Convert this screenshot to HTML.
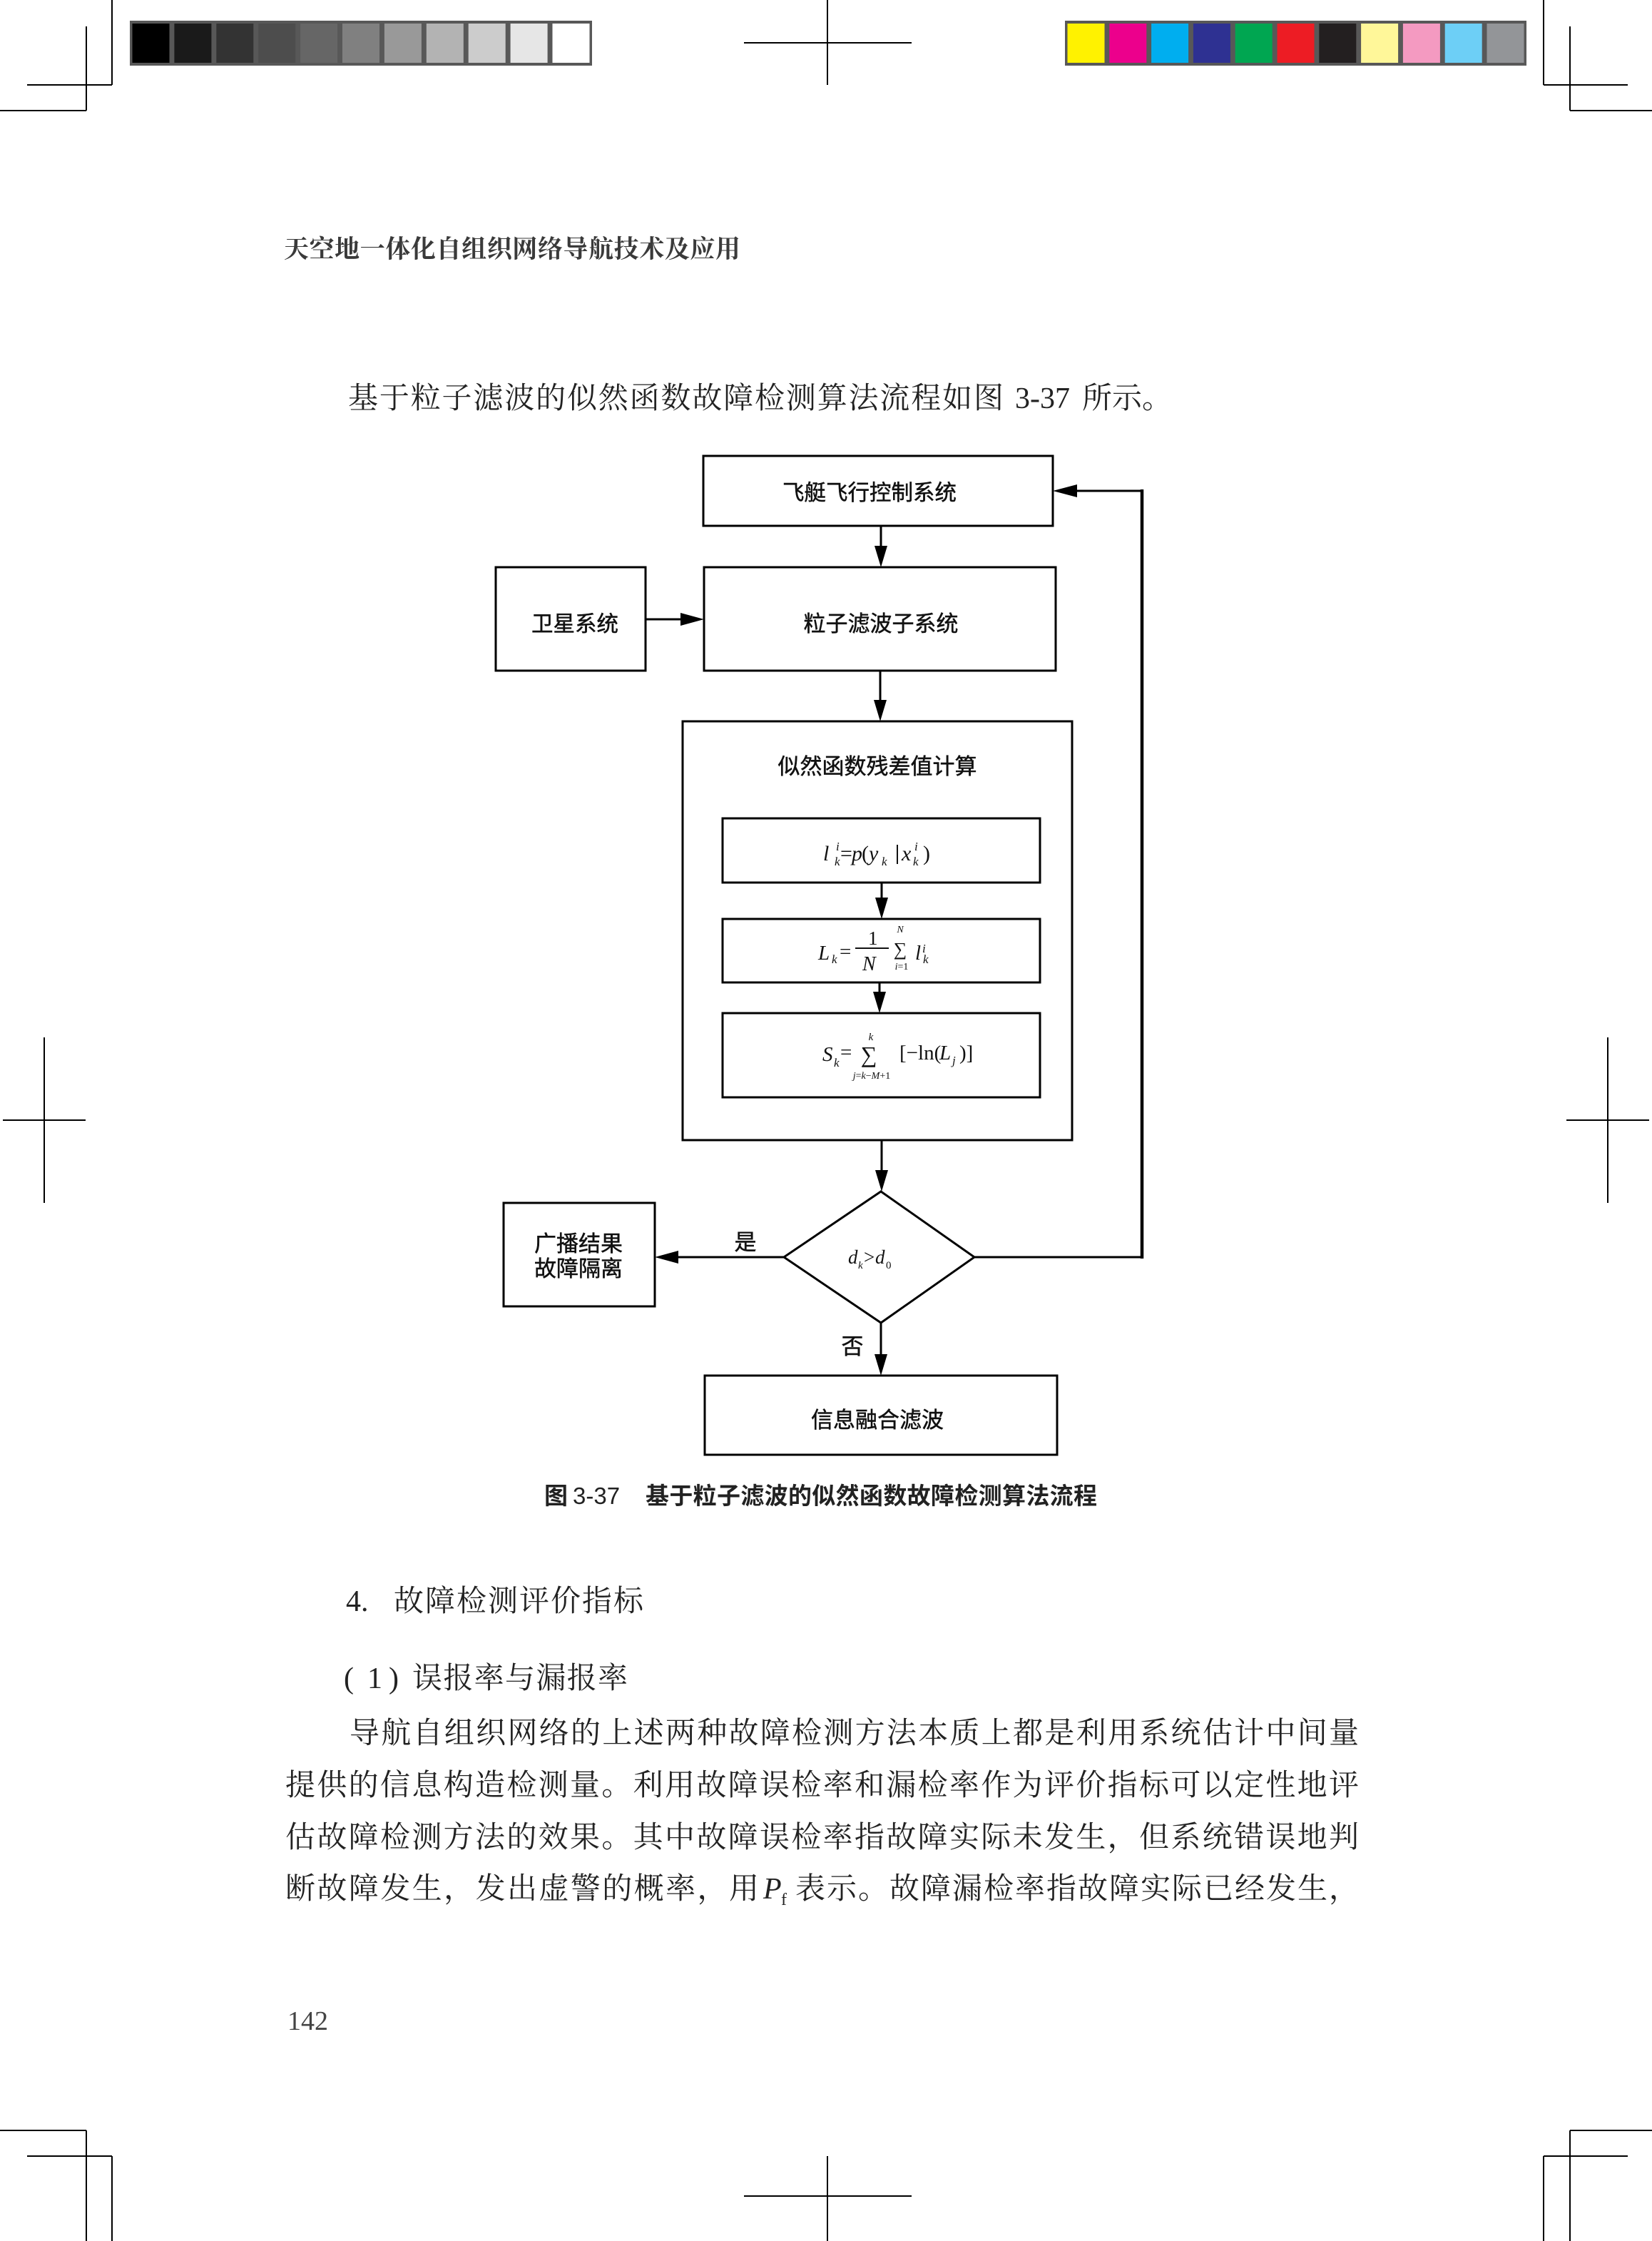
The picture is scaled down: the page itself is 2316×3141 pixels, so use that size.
<!DOCTYPE html>
<html>
<head>
<meta charset="utf-8">
<style>
  html, body { margin: 0; padding: 0; background: #ffffff; }
  svg { display: block; }
</style>
</head>
<body>
<svg xmlns="http://www.w3.org/2000/svg" width="2316" height="3141" viewBox="0 0 2316 3141">
  <rect x="0" y="0" width="2316" height="3141" fill="#ffffff"/>

  <!-- ===== Crop marks ===== -->
  <g stroke="#000" stroke-width="2" fill="none">
    <line x1="157" y1="0" x2="157" y2="119"/>
    <line x1="38" y1="119" x2="157" y2="119"/>
    <line x1="121" y1="37" x2="121" y2="155"/>
    <line x1="0" y1="155" x2="121" y2="155"/>
    <line x1="1160" y1="0" x2="1160" y2="119"/>
    <line x1="1043" y1="60" x2="1278" y2="60"/>
    <line x1="2164" y1="0" x2="2164" y2="119"/>
    <line x1="2164" y1="119" x2="2282" y2="119"/>
    <line x1="2201" y1="37" x2="2201" y2="155"/>
    <line x1="2201" y1="155" x2="2316" y2="155"/>
    <line x1="62" y1="1454" x2="62" y2="1686"/>
    <line x1="4" y1="1570" x2="120" y2="1570"/>
    <line x1="2254" y1="1454" x2="2254" y2="1686"/>
    <line x1="2196" y1="1570" x2="2312" y2="1570"/>
    <line x1="157" y1="3022" x2="157" y2="3141"/>
    <line x1="38" y1="3022" x2="157" y2="3022"/>
    <line x1="121" y1="2986" x2="121" y2="3141"/>
    <line x1="0" y1="2986" x2="121" y2="2986"/>
    <line x1="1160" y1="3022" x2="1160" y2="3141"/>
    <line x1="1043" y1="3078" x2="1278" y2="3078"/>
    <line x1="2164" y1="3022" x2="2164" y2="3141"/>
    <line x1="2164" y1="3022" x2="2282" y2="3022"/>
    <line x1="2201" y1="2986" x2="2201" y2="3141"/>
    <line x1="2201" y1="2986" x2="2316" y2="2986"/>
  </g>

  <!-- ===== Gray scale bar ===== -->
  <rect x="182" y="29" width="648" height="63" fill="#585858"/>
  <g>
    <rect x="185.5" y="33" width="52" height="55" fill="#000000"/>
    <rect x="244.4" y="33" width="52" height="55" fill="#1a1a1a"/>
    <rect x="303.3" y="33" width="52" height="55" fill="#333333"/>
    <rect x="362.2" y="33" width="52" height="55" fill="#4d4d4d"/>
    <rect x="421.1" y="33" width="52" height="55" fill="#666666"/>
    <rect x="480.0" y="33" width="52" height="55" fill="#808080"/>
    <rect x="538.9" y="33" width="52" height="55" fill="#999999"/>
    <rect x="597.8" y="33" width="52" height="55" fill="#b3b3b3"/>
    <rect x="656.7" y="33" width="52" height="55" fill="#cccccc"/>
    <rect x="715.6" y="33" width="52" height="55" fill="#e6e6e6"/>
    <rect x="774.5" y="33" width="52" height="55" fill="#ffffff"/>
  </g>

  <!-- ===== Color bar ===== -->
  <rect x="1493" y="29" width="647" height="63" fill="#585858"/>
  <g>
    <rect x="1496.5" y="33" width="52" height="55" fill="#fff200"/>
    <rect x="1555.3" y="33" width="52" height="55" fill="#ec008c"/>
    <rect x="1614.1" y="33" width="52" height="55" fill="#00aeef"/>
    <rect x="1672.9" y="33" width="52" height="55" fill="#2e3192"/>
    <rect x="1731.7" y="33" width="52" height="55" fill="#00a651"/>
    <rect x="1790.5" y="33" width="52" height="55" fill="#ed1c24"/>
    <rect x="1849.3" y="33" width="52" height="55" fill="#231f20"/>
    <rect x="1908.1" y="33" width="52" height="55" fill="#fff799"/>
    <rect x="1966.9" y="33" width="52" height="55" fill="#f49ac1"/>
    <rect x="2025.7" y="33" width="52" height="55" fill="#6dcff6"/>
    <rect x="2084.5" y="33" width="52" height="55" fill="#939598"/>
  </g>

  <!-- ===== Running header ===== -->
  <text x="398" y="361" textLength="640" lengthAdjust="spacing"
        style="font-family:'Liberation Serif','Noto Serif CJK SC',serif;font-size:35px;font-weight:700;fill:#3a3a3a;">天空地一体化自组织网络导航技术及应用</text>

  <!-- ===== Intro line ===== -->
  <text x="488" y="572" textLength="919" lengthAdjust="spacing"
        style="font-family:'Liberation Serif','Noto Serif CJK SC',serif;font-size:42px;fill:#222;">基于粒子滤波的似然函数故障检测算法流程如图</text>
  <text x="1423" y="572" style="font-family:'Liberation Serif',serif;font-size:42px;fill:#222;">3-37</text>
  <text x="1517" y="572" textLength="126" lengthAdjust="spacing"
        style="font-family:'Liberation Serif','Noto Serif CJK SC',serif;font-size:42px;fill:#222;">所示。</text>

  <!-- ===== Flowchart ===== -->
  <g stroke="#000" stroke-width="3" fill="none">
    <rect x="986" y="639" width="490" height="98"/>
    <rect x="695" y="795" width="210" height="145"/>
    <rect x="987" y="795" width="493" height="145"/>
    <rect x="957" y="1011" width="546" height="587"/>
    <rect x="1013" y="1147" width="445" height="90"/>
    <rect x="1013" y="1288" width="445" height="89"/>
    <rect x="1013" y="1420" width="445" height="118"/>
    <rect x="706" y="1686" width="212" height="145"/>
    <rect x="988" y="1928" width="494" height="111"/>
    <polygon points="1235,1670 1366,1762 1235,1854 1099,1762"/>
    <line x1="1235" y1="737" x2="1235" y2="768"/>
    <line x1="905" y1="868" x2="956" y2="868"/>
    <line x1="1234" y1="940" x2="1234" y2="983"/>
    <line x1="1236" y1="1237" x2="1236" y2="1260"/>
    <line x1="1233" y1="1377" x2="1233" y2="1392"/>
    <line x1="1236" y1="1598" x2="1236" y2="1642"/>
    <line x1="1099" y1="1762" x2="948" y2="1762"/>
    <line x1="1235" y1="1854" x2="1235" y2="1900"/>
    <polyline points="1366,1762 1601,1762" />
    <line x1="1601" y1="1764" x2="1601" y2="686" stroke-width="4.5"/>
    <line x1="1603" y1="688" x2="1508" y2="688"/>
  </g>
  <g fill="#000">
    <polygon points="1235,795 1226,765 1244,765"/>
    <polygon points="987,868 954,859 954,877"/>
    <polygon points="1234,1011 1225,981 1243,981"/>
    <polygon points="1236,1288 1227,1258 1245,1258"/>
    <polygon points="1233,1420 1224,1390 1242,1390"/>
    <polygon points="1236,1670 1227,1640 1245,1640"/>
    <polygon points="918,1762 951,1753 951,1771"/>
    <polygon points="1476,688 1510,679 1510,697"/>
    <polygon points="1235,1928 1226,1898 1244,1898"/>
  </g>

  <!-- Flowchart labels -->
  <g style="font-family:'Liberation Sans','Noto Sans CJK SC',sans-serif;fill:#111;stroke:#111;stroke-width:0.5px;" text-anchor="middle">
    <text x="1219" y="701" style="font-size:30.5px;">飞艇飞行控制系统</text>
    <text x="806" y="885" style="font-size:30.5px;">卫星系统</text>
    <text x="1235" y="885" style="font-size:31px;">粒子滤波子系统</text>
    <text x="1230" y="1085" style="font-size:31px;">似然函数残差值计算</text>
    <text x="811" y="1754" style="font-size:31px;">广播结果</text>
    <text x="811" y="1789" style="font-size:31px;">故障隔离</text>
    <text x="1045" y="1752" style="font-size:31px;">是</text>
    <text x="1195" y="1898" style="font-size:31px;">否</text>
    <text x="1230" y="2001" style="font-size:31px;">信息融合滤波</text>
  </g>

  <!-- Formula E1 -->
  <g style="font-family:'Liberation Serif',serif;fill:#111;">
    <text x="1154" y="1206" style="font-size:30px;font-style:italic;">l</text>
    <text x="1172" y="1192" style="font-size:17px;font-style:italic;">i</text>
    <text x="1170" y="1213" style="font-size:17px;font-style:italic;">k</text>
    <text x="1178" y="1206" style="font-size:30px;">=</text>
    <text x="1194" y="1206" style="font-size:30px;font-style:italic;">p</text>
    <text x="1208" y="1206" style="font-size:30px;">(</text>
    <text x="1218" y="1206" style="font-size:30px;font-style:italic;">y</text>
    <text x="1236" y="1213" style="font-size:17px;font-style:italic;">k</text>
    <line x1="1258" y1="1184" x2="1258" y2="1211" stroke="#111" stroke-width="2"/>
    <text x="1264" y="1206" style="font-size:30px;font-style:italic;">x</text>
    <text x="1282" y="1192" style="font-size:17px;font-style:italic;">i</text>
    <text x="1280" y="1213" style="font-size:17px;font-style:italic;">k</text>
    <text x="1294" y="1206" style="font-size:30px;">)</text>
  </g>

  <!-- Formula E2 -->
  <g style="font-family:'Liberation Serif',serif;fill:#111;">
    <text x="1147" y="1345" style="font-size:29px;font-style:italic;">L</text>
    <text x="1166" y="1350" style="font-size:17px;font-style:italic;">k</text>
    <text x="1177" y="1343" style="font-size:29px;">=</text>
    <text x="1217" y="1324" style="font-size:27px;">1</text>
    <line x1="1199" y1="1329" x2="1246" y2="1329" stroke="#111" stroke-width="2"/>
    <text x="1209" y="1360" style="font-size:28px;font-style:italic;">N</text>
    <text x="1262" y="1307" text-anchor="middle" style="font-size:14px;font-style:italic;">N</text>
    <text x="1262" y="1339" text-anchor="middle" style="font-size:26px;">∑</text>
    <text x="1264" y="1359" text-anchor="middle" style="font-size:14px;"><tspan font-style="italic">i</tspan>=1</text>
    <text x="1283" y="1345" style="font-size:29px;font-style:italic;">l</text>
    <text x="1293" y="1335" style="font-size:17px;font-style:italic;">i</text>
    <text x="1294" y="1350" style="font-size:17px;font-style:italic;">k</text>
  </g>

  <!-- Formula E3 -->
  <g style="font-family:'Liberation Serif',serif;fill:#111;">
    <text x="1153" y="1487" style="font-size:29px;font-style:italic;">S</text>
    <text x="1169" y="1495" style="font-size:17px;font-style:italic;">k</text>
    <text x="1178" y="1484" style="font-size:29px;">=</text>
    <text x="1221" y="1458" text-anchor="middle" style="font-size:15px;font-style:italic;">k</text>
    <text x="1218" y="1489" text-anchor="middle" style="font-size:32px;">∑</text>
    <text x="1222" y="1512" text-anchor="middle" style="font-size:14px;"><tspan font-style="italic">j</tspan>=<tspan font-style="italic">k</tspan>−<tspan font-style="italic">M</tspan>+1</text>
    <text x="1261" y="1485" style="font-size:29px;">[−ln(</text>
    <text x="1317" y="1485" style="font-size:29px;font-style:italic;">L</text>
    <text x="1335" y="1492" style="font-size:17px;font-style:italic;">j</text>
    <text x="1345" y="1485" style="font-size:29px;">)]</text>
  </g>

  <!-- Diamond label -->
  <g style="font-family:'Liberation Serif',serif;fill:#111;">
    <text x="1189" y="1771" style="font-size:27px;font-style:italic;">d</text>
    <text x="1203" y="1778" style="font-size:15px;font-style:italic;">k</text>
    <text x="1211" y="1771" style="font-size:27px;">&gt;</text>
    <text x="1227" y="1771" style="font-size:27px;font-style:italic;">d</text>
    <text x="1242" y="1778" style="font-size:15px;">0</text>
  </g>

  <!-- ===== Caption ===== -->
  <text x="763" y="2108" style="font-family:'Liberation Sans','Noto Sans CJK SC',sans-serif;font-size:33px;font-weight:700;fill:#222;">图</text>
  <text x="803" y="2108" style="font-family:'Liberation Sans',sans-serif;font-size:33px;fill:#222;">3-37</text>
  <text x="905" y="2108" textLength="633" lengthAdjust="spacing"
        style="font-family:'Liberation Sans','Noto Sans CJK SC',sans-serif;font-size:33px;font-weight:700;fill:#222;">基于粒子滤波的似然函数故障检测算法流程</text>

  <!-- ===== Body text ===== -->
  <g style="font-family:'Liberation Serif','Noto Serif CJK SC',serif;font-size:42px;fill:#222;">
    <text x="485" y="2258">4.</text>
    <text x="552" y="2258" textLength="350" lengthAdjust="spacing">故障检测评价指标</text>

    <text x="482" y="2366">(</text>
    <text x="515" y="2366">1</text>
    <text x="545" y="2366">)</text>
    <text x="578" y="2366" textLength="302" lengthAdjust="spacing">误报率与漏报率</text>

    <text x="490" y="2443" textLength="1415" lengthAdjust="spacing">导航自组织网络的上述两种故障检测方法本质上都是利用系统估计中间量</text>
    <text x="400" y="2516" textLength="1505" lengthAdjust="spacing">提供的信息构造检测量。利用故障误检率和漏检率作为评价指标可以定性地评</text>
    <text x="400" y="2589" textLength="1505" lengthAdjust="spacing">估故障检测方法的效果。其中故障误检率指故障实际未发生，但系统错误地判</text>
    <text x="400" y="2661" textLength="664" lengthAdjust="spacing">断故障发生，发出虚警的概率，用</text>
    <text x="1070" y="2661" style="font-style:italic;">P</text>
    <text x="1095" y="2670" style="font-size:24px;">f</text>
    <text x="1115" y="2661" textLength="790" lengthAdjust="spacing">表示。故障漏检率指故障实际已经发生，</text>
  </g>

  <!-- ===== Page number ===== -->
  <text x="403" y="2845" style="font-family:'Liberation Serif',serif;font-size:38px;fill:#444;">142</text>
</svg>
</body>
</html>
